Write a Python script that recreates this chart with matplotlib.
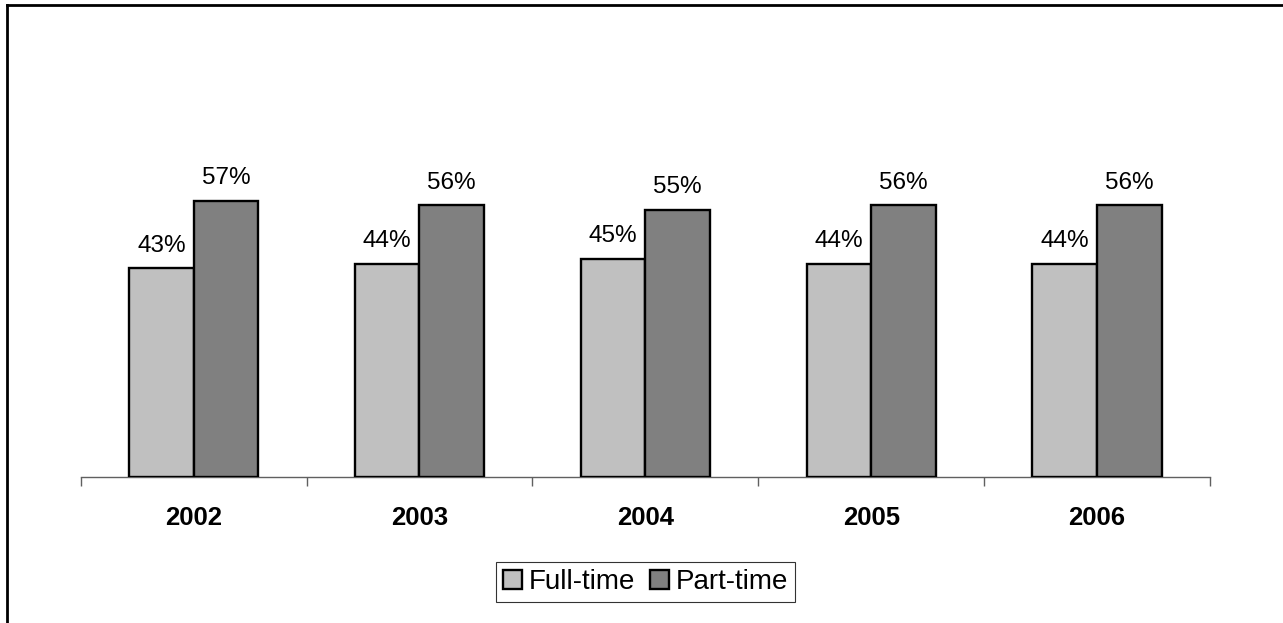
import matplotlib
matplotlib.use("Agg")
import matplotlib.pyplot as plt
from matplotlib.lines import Line2D
import numpy as np

plt.rcParams["font.family"] = ["Liberation Sans", "DejaVu Sans"]

years = ["2002", "2003", "2004", "2005", "2006"]
full_time = [43, 44, 45, 44, 44]
part_time = [57, 56, 55, 56, 56]

W, H, DPI = 1283, 623, 100
fig = plt.figure(figsize=(W / DPI, H / DPI), dpi=DPI)

# axes placed in pixel units: baseline at y=477, x from 80.7 to 1210
ymax = 90
px_per_unit = 4.85
ax_left, ax_right, base = 80.7, 1210, 477
ax_h = ymax * px_per_unit
ax = fig.add_axes([ax_left / W, (H - base) / H, (ax_right - ax_left) / W, ax_h / H])

x = np.arange(len(years))
w = 0.286
b1 = ax.bar(x - w / 2, full_time, w, color="#C0C0C0", edgecolor="black",
            linewidth=1.7, label="Full-time", zorder=3)
b2 = ax.bar(x + w / 2, part_time, w, color="#808080", edgecolor="black",
            linewidth=1.7, label="Part-time", zorder=3)

for bars, vals in ((b1, full_time), (b2, part_time)):
    for r, v in zip(bars, vals):
        ax.annotate(f"{v}%", (r.get_x() + r.get_width() / 2, v),
                    xytext=(0, 8.5), textcoords="offset points",
                    ha="center", va="bottom", fontsize=17.5)

ax.set_xlim(-0.5, len(years) - 0.5)
ax.set_ylim(0, ymax)
for s in ("top", "right", "left"):
    ax.spines[s].set_visible(False)
ax.spines["bottom"].set_color("#606060")
ax.spines["bottom"].set_linewidth(1.0)
ax.set_yticks([])

ax.set_xticks(x)
ax.set_xticklabels(years, fontsize=18.5, fontweight="bold")
ax.tick_params(axis="x", which="major", length=0, pad=21)
ax.set_xticks(np.arange(-0.5, len(years)), minor=True)
ax.tick_params(axis="x", which="minor", length=6.5, width=1.0, color="#606060",
               direction="out")

leg = fig.legend(handles=[b1, b2], loc="center",
                 bbox_to_anchor=(645.5 / W, 1 - 582 / H), ncol=2,
                 fontsize=20, frameon=True, fancybox=False, shadow=False,
                 handlelength=0.68, handleheight=0.68, handletextpad=0.22,
                 columnspacing=0.56, borderpad=0.25, borderaxespad=0)
leg.get_frame().set_edgecolor("black")
leg.get_frame().set_linewidth(0.8)

# outer border: top and left only
fig.add_artist(Line2D([6.5 / W, 6.5 / W], [0, 1 - 4.5 / H], color="black",
                      linewidth=2, transform=fig.transFigure))
fig.add_artist(Line2D([6.5 / W, 1], [1 - 4.5 / H, 1 - 4.5 / H], color="black",
                      linewidth=2, transform=fig.transFigure))

fig.savefig("out.png", dpi=DPI)
